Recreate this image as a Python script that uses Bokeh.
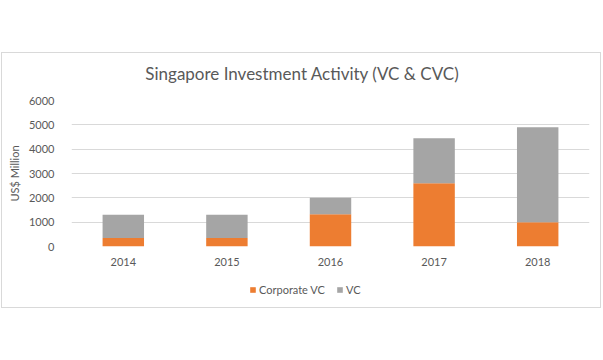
from bokeh.plotting import figure
from bokeh.models import Range1d, FactorRange, Legend, LegendItem, Label, LinearAxis, FixedTicker
from bokeh.layouts import column
from bokeh.embed import file_html
from bokeh.resources import INLINE

years = ["2014", "2015", "2016", "2017", "2018"]
corporate_vc = [350, 350, 1330, 2600, 1000]
vc = [950, 950, 670, 1850, 3900]
y_ticks = [0, 1000, 2000, 3000, 4000, 5000, 6000]
series_names = ["Corporate VC", "VC"]
title_text = "Singapore Investment Activity (VC & CVC)"

ORANGE = "#ED7D31"
GRAY = "#A5A5A5"
TXT = "#595959"
FONT = "Lato"
BORDER = "1px solid #d9d9d9"


def strip(height, styles):
    f = figure(x_range=Range1d(0, 1), y_range=Range1d(0, 1), width=600, height=height,
               output_backend="svg", toolbar_location=None,
               min_border_left=0, min_border_right=0, min_border_top=0, min_border_bottom=0)
    f.styles = styles
    f.axis.visible = False
    f.grid.visible = False
    f.outline_line_color = None
    return f


# title strip
tt = strip(38, {"margin-left": "1px", "margin-top": "52px",
                "border-top": BORDER, "border-left": BORDER, "border-right": BORDER})
tt.add_layout(Label(x=231, y=18, x_units="screen", y_units="screen", text=title_text,
                    text_align="center", text_baseline="middle", text_font=FONT,
                    text_font_size="17px", text_color=TXT))

# main chart
p = figure(x_range=FactorRange(*years), y_range=Range1d(0, 6000),
           width=600, height=184, output_backend="svg", toolbar_location=None,
           min_border_left=69, min_border_right=13, min_border_top=10, min_border_bottom=28)
p.styles = {"margin-left": "1px", "border-left": BORDER, "border-right": BORDER}

data = dict(years=years, corporate=corporate_vc, vc=vc)
rs = p.vbar_stack(["corporate", "vc"], x="years", width=0.4, color=[ORANGE, GRAY],
                  line_color=None, source=data)

p.outline_line_color = None
p.xgrid.grid_line_color = None
p.ygrid.grid_line_color = "#d9d9d9"
p.ygrid.grid_line_width = 1
p.yaxis.ticker = y_ticks

for ax in (p.xaxis[0], p.yaxis[0]):
    ax.axis_line_color = None
    ax.major_tick_line_color = None
    ax.minor_tick_line_color = None
    ax.major_label_text_font = FONT
    ax.major_label_text_font_size = "11px"
    ax.major_label_text_color = TXT
    ax.axis_label_text_font = FONT
    ax.axis_label_text_font_style = "normal"
    ax.axis_label_text_color = TXT
    ax.axis_label_text_font_size = "11px"

p.yaxis.axis_label = "US$ Million"
p.yaxis.axis_label_standoff = 5
p.yaxis.major_label_standoff = 11
p.xaxis.major_label_standoff = 5

# empty outer axis that takes up the spare left margin
spacer_axis = LinearAxis(ticker=FixedTicker(ticks=[]), axis_line_color=None,
                         major_tick_line_color=None, minor_tick_line_color=None,
                         major_label_text_color=None)
p.add_layout(spacer_axis, "left")

# legend strip below the chart
lg = strip(34, {"margin-left": "1px",
                "border-bottom": BORDER, "border-left": BORDER, "border-right": BORDER})
r1 = lg.vbar(x=[-1], top=[-1], width=0.1, color=ORANGE, line_color=None)
r2 = lg.vbar(x=[-1], top=[-1], width=0.1, color=GRAY, line_color=None)

legend = Legend(items=[LegendItem(label=series_names[0], renderers=[r1]),
                       LegendItem(label=series_names[1], renderers=[r2])],
                orientation="horizontal", location=(178, 12),
                label_text_font=FONT, label_text_font_size="11px", label_text_color=TXT,
                glyph_width=7, glyph_height=7, spacing=11, label_standoff=3,
                border_line_color=None, background_fill_alpha=0, margin=0, padding=4)
lg.add_layout(legend, "center")

layout = column(tt, p, lg, spacing=0)
open("out.html", "w").write(file_html(layout, INLINE))
